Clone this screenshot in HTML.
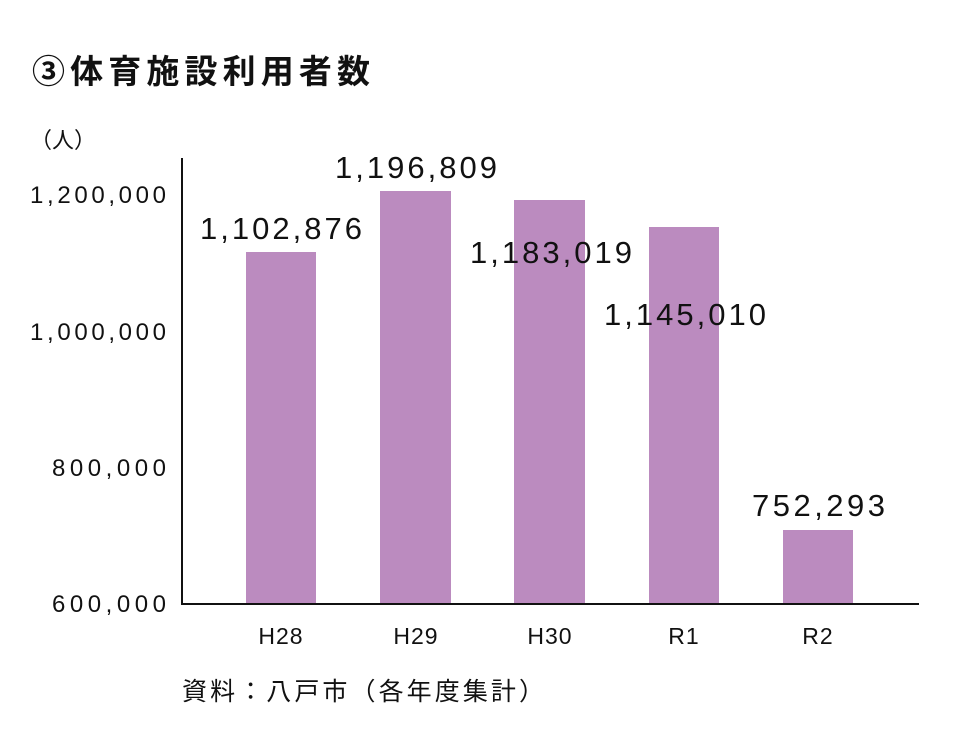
<!DOCTYPE html>
<html><head><meta charset="utf-8"><style>
html,body{margin:0;padding:0;background:#fff;}
svg{display:block;}
text{font-family:"Liberation Sans","Noto Sans CJK JP",sans-serif;fill:#111;}
</style></head><body>
<svg width="978" height="732" viewBox="0 0 978 732" xmlns="http://www.w3.org/2000/svg">
<text x="32" y="83" font-size="33" font-weight="bold" textLength="338" lengthAdjust="spacing">③体育施設利用者数</text>
<text x="30" y="148" font-size="22">（人）</text>
<g font-size="24">
<text x="30" y="203" textLength="136" lengthAdjust="spacing">1,200,000</text>
<text x="30" y="340" textLength="136" lengthAdjust="spacing">1,000,000</text>
<text x="52" y="476" textLength="114" lengthAdjust="spacing">800,000</text>
<text x="52" y="612" textLength="114" lengthAdjust="spacing">600,000</text>
</g>
<g fill="#bb8bbf">
<rect x="246" y="252" width="70" height="352"/>
<rect x="380" y="191" width="71" height="413"/>
<rect x="514" y="200" width="71" height="404"/>
<rect x="649" y="227" width="70" height="377"/>
<rect x="783" y="530" width="70" height="74"/>
</g>
<line x1="182" y1="158" x2="182" y2="605" stroke="#111" stroke-width="2"/>
<line x1="181" y1="604" x2="919" y2="604" stroke="#111" stroke-width="2"/>
<g font-size="31">
<text x="200" y="239" textLength="162" lengthAdjust="spacing">1,102,876</text>
<text x="335" y="178" textLength="162" lengthAdjust="spacing">1,196,809</text>
<text x="470" y="263" textLength="162" lengthAdjust="spacing">1,183,019</text>
<text x="604" y="325" textLength="162" lengthAdjust="spacing">1,145,010</text>
<text x="752" y="516" textLength="133" lengthAdjust="spacing">752,293</text>
</g>
<g font-size="23" text-anchor="middle">
<text x="281" y="644" letter-spacing="1">H28</text>
<text x="416" y="644" letter-spacing="1">H29</text>
<text x="550" y="644" letter-spacing="1">H30</text>
<text x="684" y="644" letter-spacing="1">R1</text>
<text x="818" y="644" letter-spacing="1">R2</text>
</g>
<text x="182" y="700" font-size="25" textLength="362" lengthAdjust="spacing">資料：八戸市（各年度集計）</text>
</svg>
</body></html>
